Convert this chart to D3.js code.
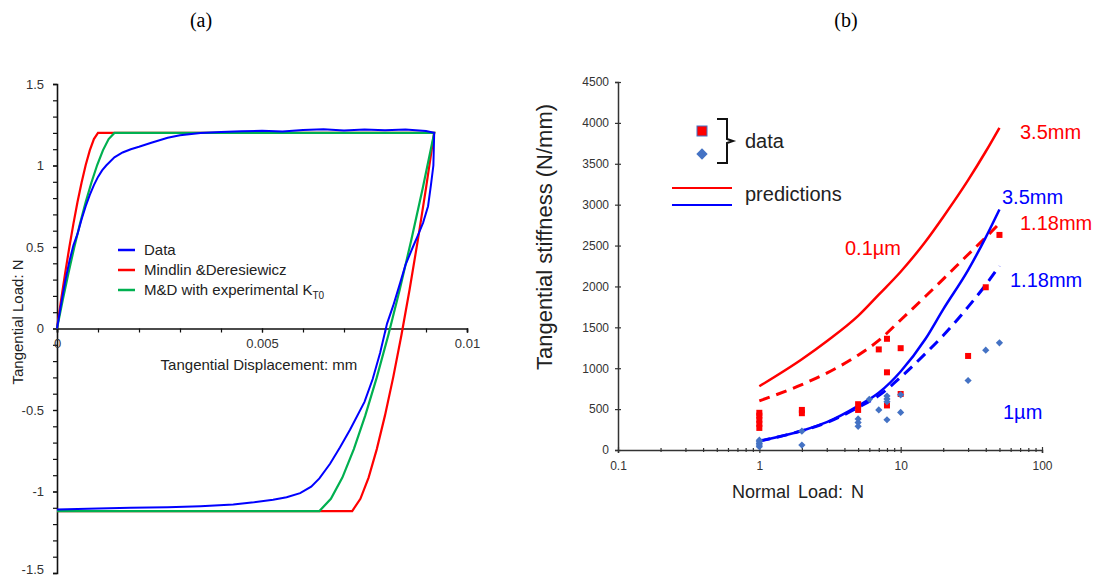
<!DOCTYPE html>
<html><head><meta charset="utf-8">
<script src="https://cdn.jsdelivr.net/npm/d3@7"></script>
<style>
body{margin:0;background:#fff;}
text{font-family:"Liberation Sans",Arial,sans-serif;}
</style></head>
<body><svg id="c" width="1106" height="577"></svg>
<script>
// ---------- Panel (a) data: tangential displacement (mm) vs tangential load (N)
const dataLoop = [[0,0],[0.0001,0.15],[0.0002,0.29],[0.0003,0.41],[0.0004,0.51],[0.0005,0.58],[0.0006,0.67],[0.0007,0.75],[0.0008,0.82],[0.0009,0.88],[0.001,0.93],[0.0011,0.97],[0.0012,1.0],[0.0014,1.05],[0.0016,1.08],[0.0018,1.10],[0.002,1.115],[0.0023,1.14],[0.0027,1.17],[0.003,1.185],[0.0035,1.2],[0.004,1.205],[0.0045,1.21],[0.005,1.213],[0.0055,1.208],[0.006,1.218],[0.0065,1.222],[0.007,1.214],[0.0075,1.221],[0.008,1.216],[0.0085,1.221],[0.009,1.212],[0.0092,1.2],
  [0.00918,1.0],[0.00912,0.88],[0.00905,0.75],[0.00893,0.65],[0.0088,0.57],[0.00868,0.5],[0.0085,0.39],[0.00837,0.28],[0.0082,0.14],[0.00805,0.03],[0.00788,-0.15],[0.0077,-0.31],[0.0075,-0.45],[0.00715,-0.62],[0.0069,-0.73],[0.00666,-0.83],[0.0064,-0.92],[0.0062,-0.97],[0.00593,-1.01],[0.0056,-1.035],[0.00527,-1.05],[0.0048,-1.066],[0.0043,-1.08],[0.0035,-1.09],[0.0027,-1.096],[0.0018,-1.1],[0.001,-1.105],[0,-1.11]];
const mindlinLoop = [[0,0],[0.0001,0.175],[0.0002,0.341],[0.0003,0.497],[0.0004,0.642],[0.0005,0.776],[0.0006,0.896],[0.0007,1.003],[0.0008,1.093],[0.0009,1.162],[0.001,1.2],[0.0092,1.2],
  [0.009,0.861],[0.0088,0.541],[0.0086,0.239],[0.0084,-0.041],[0.0082,-0.30],[0.008,-0.533],[0.0078,-0.74],[0.0076,-0.915],[0.0074,-1.045],[0.0072,-1.12],[0,-1.12]];
const mdExpLoop = [[0,0],[0.00014,0.175],[0.00028,0.341],[0.00042,0.497],[0.00056,0.642],[0.0007,0.776],[0.00084,0.896],[0.00098,1.003],[0.00112,1.093],[0.00126,1.162],[0.0014,1.2],[0.0092,1.2],
  [0.00892,0.861],[0.00864,0.541],[0.00836,0.239],[0.00808,-0.041],[0.0078,-0.30],[0.00752,-0.533],[0.00724,-0.74],[0.00696,-0.915],[0.00668,-1.045],[0.0064,-1.12],[0,-1.12]];
const aXTicks = [0, 0.005, 0.01];
const aXTickLabels = ["0", "0.005", "0.01"];
const aYTicks = [-1.5, -1, -0.5, 0, 0.5, 1, 1.5];
const aYTickLabels = ["-1.5", "-1", "-0.5", "0", "0.5", "1", "1.5"];
const aLegend = ["Data", "Mindlin &Deresiewicz", "M&D with experimental K"];

// ---------- Panel (b) data: normal load (N) vs tangential stiffness (N/mm)
const loads = [1, 2, 3, 5, 7, 10, 15, 20, 30, 40, 50];
const pred35_01 = [780, 1110, 1330, 1640, 1900, 2180, 2550, 2850, 3300, 3650, 3940];   // red solid
const pred118_01 = [600, 800, 940, 1160, 1340, 1590, 1880, 2090, 2390, 2600, 2770];   // red dashed
const pred35_1 = [110, 235, 340, 540, 700, 960, 1360, 1720, 2200, 2600, 2940];         // blue solid
const pred118_1 = [110, 235, 335, 520, 665, 890, 1180, 1400, 1750, 2020, 2250];        // blue dashed
const dataRed = [[1,270],[1,320],[1,370],[1,420],[1,455],[2,450],[2,490],[5,490],[5,560],[7,1230],[8,1360],[8,950],[8,545],[10,1245],[10,685],[30,1150],[40,1990],[50,2630]];
const dataBlue = [[1,40],[1,60],[1,80],[1,100],[1,120],[2,60],[2,230],[5,290],[5,335],[5,380],[6,620],[7,490],[8,370],[8,590],[8,625],[8,660],[10,460],[10,675],[30,850],[40,1220],[50,1310]];
const bXTicks = [0.1, 1, 10, 100];
const bXTickLabels = ["0.1", "1", "10", "100"];
const bYTicks = [0, 500, 1000, 1500, 2000, 2500, 3000, 3500, 4000, 4500];

const RED = "#ff0000", BLUE = "#0000ff", GREEN = "#00b050", DBLUE = "#4472c4";
const svg = d3.select("#c");

// titles
svg.append("text").attr("x", 201).attr("y", 27).attr("text-anchor", "middle")
  .style("font-family", "'Liberation Serif','Times New Roman',serif").style("font-size", "20px").text("(a)");
svg.append("text").attr("x", 846).attr("y", 27).attr("text-anchor", "middle")
  .style("font-family", "'Liberation Serif','Times New Roman',serif").style("font-size", "20px").text("(b)");

// ================= Panel (a)
const xA = d3.scaleLinear().domain([0, 0.01]).range([57, 467]);
const yA = d3.scaleLinear().domain([-1.5, 1.5]).range([573, 84]);
const gA = svg.append("g");

// y axis
const yAxA = gA.append("g").attr("transform", `translate(${xA(0)},0)`)
  .call(d3.axisLeft(yA).tickValues(aYTicks).tickSize(4).tickPadding(9)
    .tickFormat((d, i) => aYTickLabels[i]));
yAxA.selectAll(".tick text").filter(d => d === -1.5).attr("dy", "0.05em");
gA.append("g").attr("transform", `translate(${xA(0)},0)`)
  .call(d3.axisLeft(yA).tickValues(d3.range(-15, 16).map(v => v / 10)).tickSize(4).tickFormat(""))
  .select(".domain").remove();
// x axis
const xAxA = gA.append("g").attr("transform", `translate(0,${yA(0)})`)
  .call(d3.axisBottom(xA).tickValues(aXTicks).tickSize(4).tickPadding(6)
    .tickFormat((d, i) => aXTickLabels[i]));
gA.append("g").attr("transform", `translate(0,${yA(0)})`)
  .call(d3.axisBottom(xA).tickValues(d3.range(0, 11).map(v => v / 1000)).tickSize(4).tickFormat(""))
  .select(".domain").remove();
gA.selectAll(".domain").attr("stroke", "#111").attr("stroke-width", 1.6);
gA.selectAll(".tick line").attr("stroke", "#111").attr("stroke-width", 1.2);
gA.selectAll(".tick text").style("font-size", "13px").attr("fill", "#333")
  .style("font-family", "'Liberation Sans',Arial,sans-serif");

const lineA = d3.line().x(d => xA(d[0])).y(d => yA(d[1]));
gA.append("path").datum(mindlinLoop).attr("d", lineA).attr("fill", "none").attr("stroke", RED).attr("stroke-width", 2.2);
gA.append("path").datum(mdExpLoop).attr("d", lineA).attr("fill", "none").attr("stroke", GREEN).attr("stroke-width", 2.2);
gA.append("path").datum(dataLoop).attr("d", lineA).attr("fill", "none").attr("stroke", BLUE).attr("stroke-width", 2);

// axis labels
gA.append("text").attr("x", 259).attr("y", 370).attr("text-anchor", "middle")
  .style("font-size", "15px").attr("fill", "#222").text("Tangential Displacement: mm");
gA.append("text").attr("transform", "translate(23,322) rotate(-90)").attr("text-anchor", "middle")
  .style("font-size", "15px").attr("fill", "#222").text("Tangential Load: N");

// legend
const legCols = [BLUE, RED, GREEN];
aLegend.forEach((t, i) => {
  const y = 250 + i * 20;
  gA.append("line").attr("x1", 118).attr("x2", 135).attr("y1", y).attr("y2", y)
    .attr("stroke", legCols[i]).attr("stroke-width", 2.5);
  const tx = gA.append("text").attr("x", 144).attr("y", y + 5).style("font-size", "15px").attr("fill", "#222").text(t);
  if (i === 2) tx.append("tspan").attr("dy", 4).style("font-size", "10px").text("T0");
});

// ================= Panel (b)
const xB = d3.scaleLog().domain([0.1, 100]).range([618, 1042]);
const yB = d3.scaleLinear().domain([0, 4500]).range([450, 82]);
const gB = svg.append("g");

const yAxB = gB.append("g").attr("transform", `translate(${xB(0.1)},0)`)
  .call(d3.axisLeft(yB).tickValues(bYTicks).tickSize(3).tickPadding(6).tickFormat(d => String(d)));
yAxB.selectAll(".tick line").attr("x1", 3);
const xAxB = gB.append("g").attr("transform", `translate(0,${yB(0)})`)
  .call(d3.axisBottom(xB).tickValues(bXTicks).tickSize(3).tickPadding(8).tickFormat((d, i) => bXTickLabels[i]));
xAxB.selectAll(".tick line").attr("y1", -3);
const minorB = [];
[0.1, 1, 10].forEach(dec => { for (let k = 2; k <= 9; k++) minorB.push(dec * k); });
const mB = gB.append("g").attr("transform", `translate(0,${yB(0)})`)
  .call(d3.axisBottom(xB).tickValues(minorB).tickSize(2).tickFormat(""));
mB.select(".domain").remove();
mB.selectAll(".tick line").attr("y1", -2);
gB.selectAll(".domain").attr("stroke", "#333").attr("stroke-width", 1.5);
gB.selectAll(".tick line").attr("stroke", "#333").attr("stroke-width", 1.2);
gB.selectAll(".tick text").style("font-size", "12px").attr("fill", "#333")
  .style("font-family", "'Liberation Sans',Arial,sans-serif");

const lineB = vals => d3.line().curve(d3.curveMonotoneX).x((d, i) => xB(loads[i])).y(d => yB(d))(vals);
gB.append("path").attr("d", lineB(pred35_01)).attr("fill", "none").attr("stroke", RED).attr("stroke-width", 2.5);
gB.append("path").attr("d", lineB(pred118_01)).attr("fill", "none").attr("stroke", RED).attr("stroke-width", 3).attr("stroke-dasharray", "11,7");
gB.append("path").attr("d", lineB(pred35_1)).attr("fill", "none").attr("stroke", BLUE).attr("stroke-width", 2.5);
gB.append("path").attr("d", lineB(pred118_1)).attr("fill", "none").attr("stroke", BLUE).attr("stroke-width", 3).attr("stroke-dasharray", "11,7");

const diamond = d3.symbol(d3.symbolSquare, 26);
gB.selectAll("rect.sq").data(dataRed).enter().append("rect").attr("class", "sq")
  .attr("x", d => xB(d[0]) - 3).attr("y", d => yB(d[1]) - 3).attr("width", 6).attr("height", 6).attr("fill", RED);
gB.selectAll("path.dm").data(dataBlue).enter().append("path").attr("class", "dm")
  .attr("transform", d => `translate(${xB(d[0])},${yB(d[1])}) rotate(45)`)
  .attr("d", diamond).attr("fill", DBLUE);

// axis titles
gB.append("text").attr("transform", "translate(552,237) rotate(-90)").attr("text-anchor", "middle")
  .style("font-size", "22px").attr("fill", "#222").text("Tangential stiffness (N/mm)");
gB.append("text").attr("x", 798).attr("y", 498).attr("text-anchor", "middle")
  .style("font-size", "18px").style("word-spacing", "3px").attr("fill", "#222").text("Normal Load: N");

// legend (b)
gB.append("rect").attr("x", 697).attr("y", 126).attr("width", 10).attr("height", 10).attr("fill", RED)
  .attr("stroke", DBLUE).attr("stroke-width", 1);
gB.append("path").attr("transform", "translate(702,154) rotate(45)").attr("d", d3.symbol(d3.symbolSquare, 64)).attr("fill", DBLUE);
gB.append("path").attr("d", "M717,119 H727 V139 L733,141 L727,143 V163 H717")
  .attr("fill", "none").attr("stroke", "#111").attr("stroke-width", 2);
gB.append("text").attr("x", 745).attr("y", 148).style("font-size", "20px").attr("fill", "#222").text("data");
gB.append("line").attr("x1", 672).attr("x2", 732).attr("y1", 188).attr("y2", 188).attr("stroke", RED).attr("stroke-width", 2);
gB.append("line").attr("x1", 672).attr("x2", 732).attr("y1", 205).attr("y2", 205).attr("stroke", BLUE).attr("stroke-width", 2);
gB.append("text").attr("x", 745).attr("y", 201).style("font-size", "20px").attr("fill", "#222").text("predictions");

// curve annotations
const ann = [["3.5mm", 1020, 139, RED], ["3.5mm", 1002, 204, BLUE], ["1.18mm", 1020, 230, RED],
             ["1.18mm", 1010, 287, BLUE], ["0.1\u00b5m", 845, 255, RED], ["1\u00b5m", 1003, 419, BLUE]];
ann.forEach(a => gB.append("text").attr("x", a[1]).attr("y", a[2]).style("font-size", "20px").attr("fill", a[3]).text(a[0]));
</script></body></html>
